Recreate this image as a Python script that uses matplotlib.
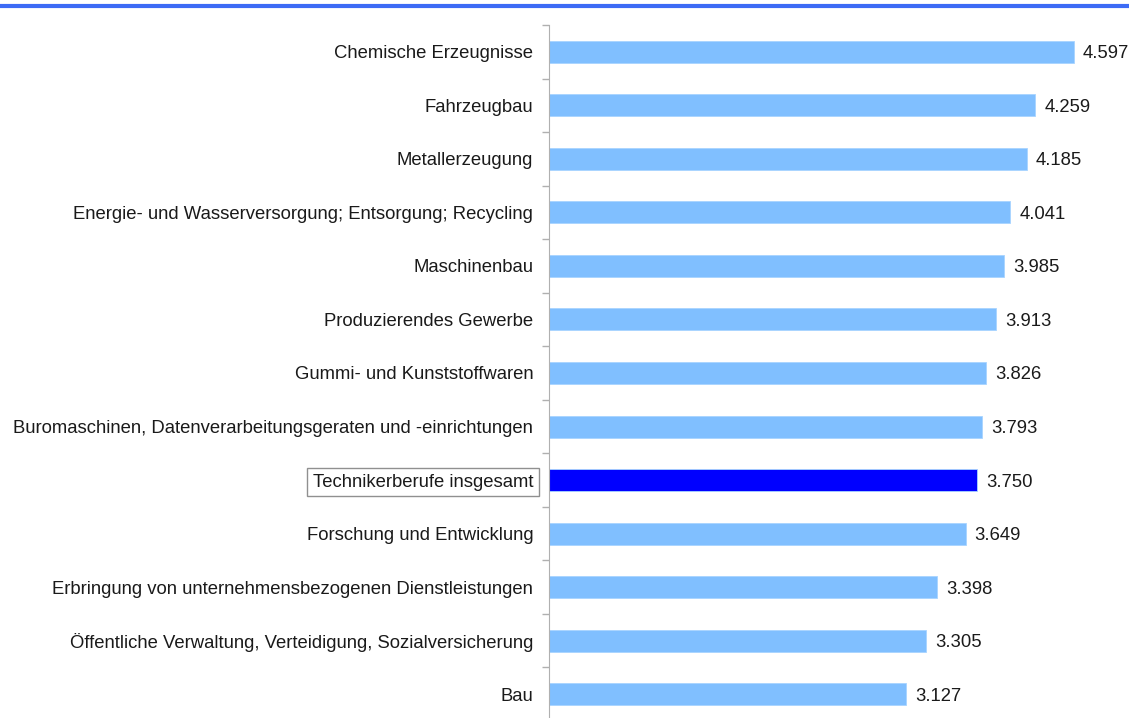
import numpy as np
import matplotlib.pyplot as plt
from matplotlib.lines import Line2D

plt.rcParams['font.family'] = ['Liberation Sans', 'DejaVu Sans']

# data
branchen = ['Chemische Erzeugnisse',
            'Fahrzeugbau',
            'Metallerzeugung',
            'Energie- und Wasserversorgung; Entsorgung; Recycling',
            'Maschinenbau',
            'Produzierendes Gewerbe',
            'Gummi- und Kunststoffwaren',
            'Buromaschinen, Datenverarbeitungsgeraten und -einrichtungen',
            'Technikerberufe insgesamt',
            'Forschung und Entwicklung',
            'Erbringung von unternehmensbezogenen Dienstleistungen',
            'Öffentliche Verwaltung, Verteidigung, Sozialversicherung',
            'Bau']
werte = [4.597, 4.259, 4.185, 4.041, 3.985, 3.913, 3.826, 3.793, 3.750,
         3.649, 3.398, 3.305, 3.127]
hervorgehoben = 'Technikerberufe insgesamt'

fig = plt.figure(figsize=(11.29, 7.18), dpi=100)
ax = fig.add_axes([548.5/1129, -3/718, 571.5/1129, 696/718])

y = np.arange(len(branchen))
farben = ['#0000FF' if b == hervorgehoben else '#80BFFF' for b in branchen]
ax.barh(y, werte, height=0.41, color=farben, edgecolor='#A8D4FF', linewidth=0.6)

for yy, w in zip(y, werte):
    ax.text(w + 0.08, yy, f'{w:.3f}', va='center_baseline', ha='left',
            fontsize=13.3, color='#1a1a1a')

ax.set_xlim(0, 5)
ax.set_ylim(len(branchen) - 0.5, -0.5)
ax.set_yticks(y)
ax.set_yticklabels(branchen, fontsize=13.3, color='#1a1a1a', va='center_baseline')
ax.tick_params(axis='y', which='major', length=0, pad=11)
ax.set_yticks(np.arange(len(branchen) + 1) - 0.5, minor=True)
ax.tick_params(axis='y', which='minor', length=5, color='#B0B0B0', width=1)
ax.set_xticks([])
for s in ['top', 'right', 'bottom']:
    ax.spines[s].set_visible(False)
ax.spines['left'].set_color('#B0B0B0')

for lab in ax.get_yticklabels():
    if lab.get_text() == hervorgehoben:
        lab.set_bbox(dict(boxstyle='square,pad=0.3', facecolor='white', edgecolor='#909090', linewidth=1))

fig.add_artist(Line2D([0, 1], [1 - 6/718, 1 - 6/718], color='#3D6BF5', linewidth=3,
                      transform=fig.transFigure))

fig.savefig('out.png', dpi=100)
